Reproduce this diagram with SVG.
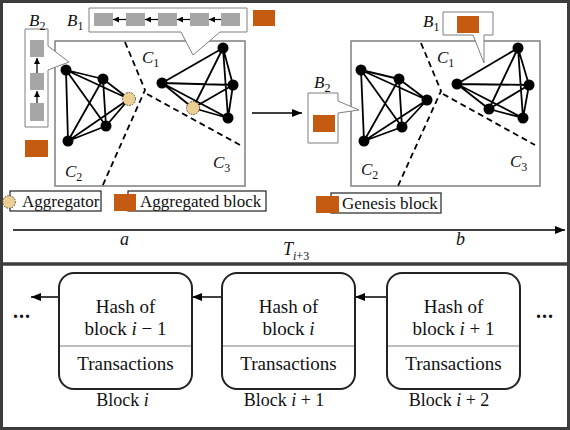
<svg xmlns="http://www.w3.org/2000/svg" width="570" height="430" viewBox="0 0 570 430">
<defs>
<style>
.frame{fill:#fff;stroke:#3c3c3c;stroke-width:3}
.sep{stroke:#3c3c3c;stroke-width:3.5}
.mbox{fill:none;stroke:#7f7f7f;stroke-width:1.5}
.call{fill:#fff;stroke:#7f7f7f;stroke-width:1}
.gsq{fill:#a6a6a6}
.osq{fill:#c55a11}
.edge{stroke:#000;stroke-width:1.8;fill:none}
.dash{stroke:#000;stroke-width:1.8;fill:none;stroke-dasharray:6,4}
.node{fill:#000}
.agg{fill:#ebcf95;stroke:#4d3f1c;stroke-width:1;stroke-dasharray:1.5,1.2}
.leg{fill:#fff;stroke:#222;stroke-width:1.2}
.blk{fill:#fff;stroke:#222;stroke-width:2}
.div{stroke:#7f7f7f;stroke-width:1.2}
.ln{stroke:#000;stroke-width:1.5;fill:none}
.sml{stroke:#000;stroke-width:1.2;fill:none}
text{font-family:"Liberation Serif","Times New Roman",serif;fill:#111}
.t17{font-size:17px}
.t19{font-size:19px}
.t18{font-size:18px}
.m{font-style:italic}
.mid{text-anchor:middle}
</style>
<marker id="ah" viewBox="0 0 10 8" refX="10" refY="4" markerWidth="10" markerHeight="8" markerUnits="userSpaceOnUse" orient="auto"><path d="M0,0 L10,4 L0,8 Z" fill="#000"/></marker>
<marker id="as" viewBox="0 0 6 6" refX="6" refY="3" markerWidth="6" markerHeight="6" markerUnits="userSpaceOnUse" orient="auto"><path d="M0,0 L6,3 L0,6 Z" fill="#000"/></marker>
</defs>

<rect class="frame" x="1.5" y="1.5" width="567" height="427"/>
<line class="sep" x1="0" y1="264" x2="570" y2="264"/>

<!-- Left state (a) -->
<g id="state-a">
<rect class="mbox" x="55" y="41" width="190" height="145"/>
</g>
<g id="state-b">
<rect class="mbox" x="351" y="41" width="189" height="145"/>
</g>

<!-- callouts -->
<g id="callout-B2-left">
<path class="call" d="M25,29 H48 V46 L69,62 L48,70 V127 H25 Z"/>
<rect class="gsq" x="30" y="40" width="14" height="17"/>
<rect class="gsq" x="30" y="73" width="14" height="17"/>
<rect class="gsq" x="30" y="103" width="14" height="18"/>
<line class="sml" x1="37" y1="73" x2="37" y2="58" marker-end="url(#as)"/>
<line class="sml" x1="37" y1="103" x2="37" y2="91" marker-end="url(#as)"/>
<text class="t17 m" x="29" y="26">B<tspan font-style="normal" font-size="12" dy="4">2</tspan></text>
</g>
<g id="callout-B1-left">
<path class="call" d="M89,8 H247 V32 H220 L193,55 L181,32 H89 Z"/>
<rect class="gsq" x="94" y="13" width="19" height="13"/>
<rect class="gsq" x="126" y="13" width="19" height="13"/>
<rect class="gsq" x="158" y="13" width="19" height="13"/>
<rect class="gsq" x="190" y="13" width="19" height="13"/>
<rect class="gsq" x="221" y="13" width="19" height="13"/>
<line class="sml" x1="126" y1="19.5" x2="113" y2="19.5" marker-end="url(#as)"/>
<line class="sml" x1="158" y1="19.5" x2="145" y2="19.5" marker-end="url(#as)"/>
<line class="sml" x1="190" y1="19.5" x2="177" y2="19.5" marker-end="url(#as)"/>
<line class="sml" x1="221" y1="19.5" x2="209" y2="19.5" marker-end="url(#as)"/>
<text class="t17 m" x="67" y="26">B<tspan font-style="normal" font-size="12" dy="4">1</tspan></text>
</g>
<rect id="new-block-top" class="osq" x="253" y="10" width="22" height="16"/>
<rect id="new-block-left" class="osq" x="25" y="140" width="23" height="17"/>

<g id="callout-B1-right">
<path class="call" d="M443,12 H493 V35 H484 V63 L473,35 H443 Z"/>
<rect class="osq" x="457" y="16" width="22" height="17"/>
<text class="t17 m" x="423" y="27">B<tspan font-style="normal" font-size="12" dy="4">1</tspan></text>
</g>
<g id="callout-B2-right">
<path class="call" d="M308,93 H338 V101 L359,110 L338,113 V143 H308 Z"/>
<rect class="osq" x="313" y="115" width="22" height="17"/>
<text class="t17 m" x="314" y="88">B<tspan font-style="normal" font-size="12" dy="4">2</tspan></text>
</g>

<!-- connectors -->
<g id="connectors">
<!-- left C2 K5 -->
<path class="edge" d="M66,70 L103,79 M66,70 L129,99 M66,70 L106,126 M66,70 L68,141 M103,79 L129,99 M103,79 L106,126 M103,79 L68,141 M129,99 L106,126 M129,99 L68,141 M106,126 L68,141"/>
<!-- left C3 K5 -->
<path class="edge" d="M162,83 L223,48 M162,83 L233,85 M162,83 L228,118 M162,83 L193,108 M223,48 L233,85 M223,48 L228,118 M223,48 L193,108 M233,85 L228,118 M233,85 L193,108 M228,118 L193,108"/>
<!-- right C2 K5 -->
<path class="edge" d="M361,70 L399,79 M361,70 L427,100 M361,70 L402,127 M361,70 L364,141 M399,79 L427,100 M399,79 L402,127 M399,79 L364,141 M427,100 L402,127 M427,100 L364,141 M402,127 L364,141"/>
<!-- right C3 K5 -->
<path class="edge" d="M457,84 L518,48 M457,84 L529,85 M457,84 L523,118 M457,84 L489,109 M518,48 L529,85 M518,48 L523,118 M518,48 L489,109 M529,85 L523,118 M529,85 L489,109 M523,118 L489,109"/>
<!-- cluster borders -->
<path class="dash" d="M125,42 L145,90 L102,187 M147,94 L240,145"/>
<path class="dash" d="M421,43 L441,91 L398,186 M443,94 L535,145"/>
<!-- transition arrow -->
<line class="ln" x1="252" y1="113" x2="302" y2="113" marker-end="url(#ah)"/>
<!-- timeline -->
<line class="ln" x1="13" y1="230" x2="565" y2="230" marker-end="url(#ah)"/>
<!-- chain arrows -->
<line class="ln" x1="387" y1="297" x2="355" y2="297" marker-end="url(#ah)"/>
<line class="ln" x1="222" y1="297" x2="192" y2="297" marker-end="url(#ah)"/>
<line class="ln" x1="59" y1="297" x2="31" y2="297" marker-end="url(#ah)"/>
</g>

<!-- nodes -->
<g id="nodes-a">
<circle class="node" cx="66" cy="70" r="5.5"/>
<circle class="node" cx="103" cy="79" r="5.5"/>
<circle class="agg" cx="129" cy="99" r="6.5"/>
<circle class="node" cx="106" cy="126" r="5.5"/>
<circle class="node" cx="68" cy="141" r="5.5"/>
<circle class="node" cx="162" cy="83" r="5.5"/>
<circle class="node" cx="223" cy="48" r="5.5"/>
<circle class="node" cx="233" cy="85" r="5.5"/>
<circle class="node" cx="228" cy="118" r="5.5"/>
<circle class="agg" cx="193" cy="108" r="6.5"/>
<text class="t17 m" x="142" y="63">C<tspan font-style="normal" font-size="12" dy="4">1</tspan></text>
<text class="t17 m" x="65" y="177">C<tspan font-style="normal" font-size="12" dy="4">2</tspan></text>
<text class="t17 m" x="213" y="168">C<tspan font-style="normal" font-size="12" dy="4">3</tspan></text>
</g>
<g id="nodes-b">
<circle class="node" cx="361" cy="70" r="5.5"/>
<circle class="node" cx="399" cy="79" r="5.5"/>
<circle class="node" cx="427" cy="100" r="5.5"/>
<circle class="node" cx="402" cy="127" r="5.5"/>
<circle class="node" cx="364" cy="141" r="5.5"/>
<circle class="node" cx="457" cy="84" r="5.5"/>
<circle class="node" cx="518" cy="48" r="5.5"/>
<circle class="node" cx="529" cy="85" r="5.5"/>
<circle class="node" cx="523" cy="118" r="5.5"/>
<circle class="node" cx="489" cy="109" r="5.5"/>
<text class="t17 m" x="437" y="63">C<tspan font-style="normal" font-size="12" dy="4">1</tspan></text>
<text class="t17 m" x="361" y="175">C<tspan font-style="normal" font-size="12" dy="4">2</tspan></text>
<text class="t17 m" x="510" y="167">C<tspan font-style="normal" font-size="12" dy="4">3</tspan></text>
</g>

<!-- legend -->
<g id="legend-aggregator">
<rect class="leg" x="10" y="191" width="91" height="20"/>
<circle class="agg" cx="9" cy="202" r="6.3"/>
<text class="t17" x="22" y="207">Aggregator</text>
</g>
<g id="legend-aggregated">
<rect class="leg" x="128" y="191" width="138" height="20"/>
<rect class="osq" x="114" y="194" width="22" height="17"/>
<text class="t17" x="140" y="207">Aggregated block</text>
</g>
<g id="legend-genesis">
<rect class="leg" x="331" y="193" width="110" height="20"/>
<rect class="osq" x="316" y="196" width="23" height="17"/>
<text class="t17" x="342" y="209">Genesis block</text>
</g>

<!-- timeline labels -->
<g id="timeline-labels">
<text class="t18 m" x="120" y="245">a</text>
<text class="t18 m" x="456" y="245">b</text>
<text class="t18 m" x="283" y="255">T<tspan font-size="12" dy="5">i</tspan><tspan font-style="normal" font-size="12">+3</tspan></text>
</g>

<!-- blockchain -->
<g id="block-i">
<rect class="blk" x="59" y="273" width="133" height="116" rx="15"/>
<line class="div" x1="60" y1="346" x2="191" y2="346"/>
<text class="t19 mid" x="125.5" y="313">Hash of</text>
<text class="t19 mid" x="125.5" y="335">block <tspan class="m">i</tspan> − 1</text>
<text class="t19 mid" x="125.5" y="370">Transactions</text>
<text class="t18 mid" x="122.5" y="406">Block <tspan class="m">i</tspan></text>
</g>
<g id="block-i1">
<rect class="blk" x="222" y="273" width="133" height="116" rx="15"/>
<line class="div" x1="223" y1="346" x2="354" y2="346"/>
<text class="t19 mid" x="288.5" y="313">Hash of</text>
<text class="t19 mid" x="288.5" y="335">block <tspan class="m">i</tspan></text>
<text class="t19 mid" x="288.5" y="370">Transactions</text>
<text class="t18 mid" x="284" y="406">Block <tspan class="m">i</tspan> + 1</text>
</g>
<g id="block-i2">
<rect class="blk" x="387" y="273" width="133" height="116" rx="15"/>
<line class="div" x1="388" y1="346" x2="519" y2="346"/>
<text class="t19 mid" x="453.5" y="313">Hash of</text>
<text class="t19 mid" x="453.5" y="335">block <tspan class="m">i</tspan> + 1</text>
<text class="t19 mid" x="453.5" y="370">Transactions</text>
<text class="t18 mid" x="449" y="406">Block <tspan class="m">i</tspan> + 2</text>
</g>
<text x="13" y="318" font-size="20" font-weight="bold" letter-spacing="1">...</text>
<text x="536" y="318" font-size="20" font-weight="bold" letter-spacing="1">...</text>
</svg>
